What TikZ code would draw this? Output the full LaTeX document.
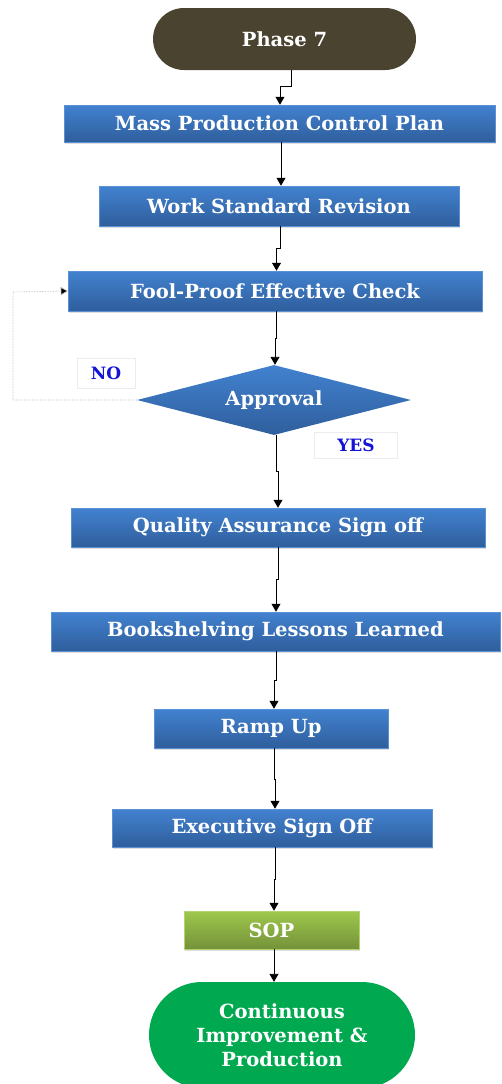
\documentclass[tikz,border=0pt]{standalone}
\usepackage{fontspec}
\setmainfont{DejaVu Serif}
\usetikzlibrary{shapes.geometric,shapes.misc,arrows.meta,shadows,calc}
\definecolor{boxtop}{HTML}{4282D0}
\definecolor{boxbot}{HTML}{2F5E9C}
\definecolor{boxedge}{HTML}{5A90D4}
\definecolor{phasec}{HTML}{4A4330}
\definecolor{sopt}{HTML}{9DC84C}
\definecolor{sopb}{HTML}{76923A}
\definecolor{cipc}{HTML}{00A84F}
\definecolor{lblc}{HTML}{1414D8}
\tikzset{
  txt/.style={font=\fontsize{19.5}{24}\selectfont\bfseries, text=white, align=center},
  bluebox/.style={txt, rectangle, top color=boxtop, bottom color=boxbot, draw=boxedge, line width=0.5pt, inner sep=0pt,
    drop shadow={shadow xshift=1pt, shadow yshift=-1.5pt, opacity=0.25}},
  sopbox/.style={txt, rectangle, top color=sopt, bottom color=sopb, draw=sopt!80, line width=0.5pt, inner sep=0pt,
    drop shadow={shadow xshift=1pt, shadow yshift=-1.5pt, opacity=0.25}},
  capsule/.style={txt, rounded rectangle, inner sep=0pt},
  decision/.style={txt, diamond, aspect=3.9, top color=boxtop, bottom color=boxbot, draw=none, inner sep=0pt},
  lbl/.style={font=\fontsize{17}{20}\selectfont\bfseries, text=lblc, fill=white, draw=gray!15, line width=0.4pt, inner sep=0pt},
  arr/.style={draw=black, line width=0.9pt, -{Triangle[width=9pt,length=8pt]}},
  fb/.style={draw=gray!60, line width=0.6pt, densely dotted, -{Triangle[width=8pt,length=7pt,fill=black]}}
}
\begin{document}
\begin{tikzpicture}[x=1pt,y=-1pt]
\useasboundingbox (0,0) rectangle (501,1084);
\node[capsule, fill=phasec, minimum width=263pt, minimum height=62pt] (p7) at (284.5,39) {Phase 7};
\node[bluebox, minimum width=431pt, minimum height=37pt] (mpcp) at (279.5,123.5) {Mass Production Control Plan};
\node[bluebox, minimum width=360pt, minimum height=40pt] (wsr) at (279,206) {Work Standard Revision};
\node[bluebox, minimum width=414pt, minimum height=40pt] (fpc) at (275,291) {Fool-Proof Effective Check};
\node[decision, minimum width=274pt, minimum height=70pt] (appr) at (274,400) {Approval};
\node[lbl, minimum width=58pt, minimum height=30pt] (no) at (106,373) {NO};
\node[lbl, minimum width=83pt, minimum height=26pt] (yes) at (356,445) {YES};
\node[bluebox, minimum width=414pt, minimum height=39pt] (qa) at (278,527.5) {Quality Assurance Sign off};
\node[bluebox, minimum width=449pt, minimum height=39pt] (bll) at (275.5,631.5) {Bookshelving Lessons Learned};
\node[bluebox, minimum width=234pt, minimum height=39pt] (ru) at (271,728.5) {Ramp Up};
\node[bluebox, minimum width=320pt, minimum height=38pt] (eso) at (272,828) {Executive Sign Off};
\node[sopbox, minimum width=175pt, minimum height=38pt] (sop) at (271.5,930) {SOP};
\node[capsule, fill=cipc, minimum width=266pt, minimum height=106pt] (cip) at (282,1035) {Continuous\\Improvement \&\\Production};
\coordinate (fbc) at (13,292);
% connectors
\draw[arr] ([xshift=6.5pt]p7.south) -- ++(0,16) -| ([xshift=0.5pt]mpcp.north);
\draw[arr] ([xshift=1.5pt]mpcp.south) -- ([xshift=2pt]wsr.north);
\draw[arr] ([xshift=1pt]wsr.south) -- ++(0,22) -| ([xshift=1.5pt]fpc.north);
\draw[arr] ([xshift=1pt]fpc.south) -- ++(0,27) -| ([xshift=1pt]appr.north);
\draw[arr] ([xshift=2pt]appr.south) -- ++(0,36) -| ([xshift=0pt]qa.north);
\draw[arr] ([xshift=0pt]qa.south) -- ++(0,32) -| ([xshift=0.5pt]bll.north);
\draw[arr] ([xshift=0.5pt]bll.south) -- ++(0,29) -| ([xshift=3pt]ru.north);
\draw[arr] ([xshift=3pt]ru.south) -- ++(0,31) -| ([xshift=3pt]eso.north);
\draw[arr] ([xshift=3pt]eso.south) -- ++(0,32) -| ([xshift=2.5pt]sop.north);
\draw[arr] ([xshift=2.5pt]sop.south) -- ([xshift=-8pt]cip.north);
\draw[fb] (appr.west) -| (fbc) -- (fpc.west);
\end{tikzpicture}
\end{document}
